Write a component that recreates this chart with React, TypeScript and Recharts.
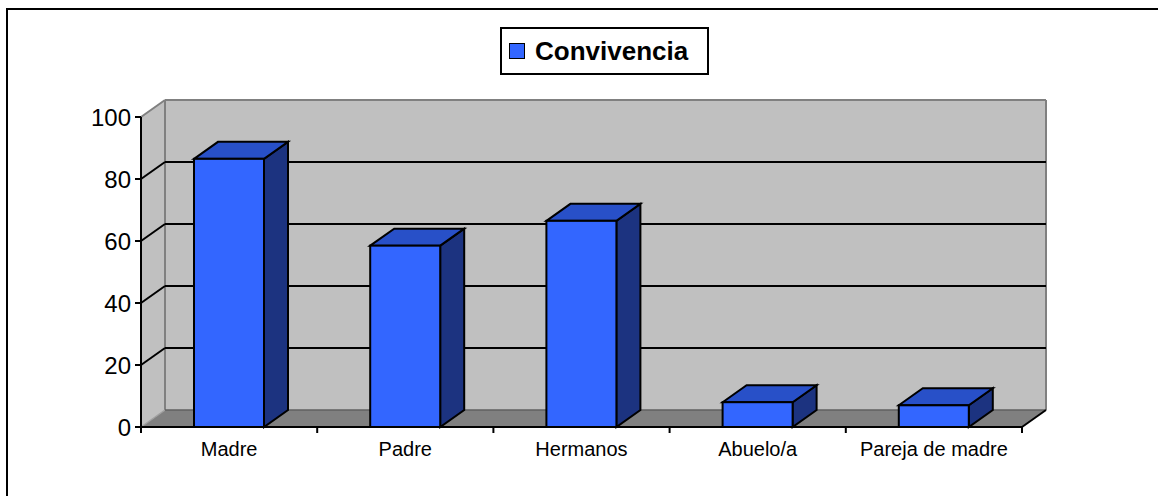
import { BarChart, Bar, XAxis, YAxis, CartesianGrid, ReferenceArea, Legend } from 'recharts'

const categories = ['Madre', 'Padre', 'Hermanos', 'Abuelo/a', 'Pareja de madre']
const convivencia = [86.5, 58.5, 66.5, 8, 7]
const yTicks = [0, 20, 40, 60, 80, 100]
const seriesName = 'Convivencia'

const data = categories.map((c, i) => ({ category: c, convivencia: convivencia[i] }))

// 3D depth offset of the back wall / bar sides
const DX = 24
const DY = 17
const FONT = '"Liberation Sans", Arial, Helvetica, sans-serif'
const FRONT = '#3366FF'
const TOP = '#2850C8'
const SIDE = '#1C3380'

function Walls(props: any) {
  const { x, y, width, height } = props
  const b = y + height
  const r = x + width
  return (
    <g>
      <polygon points={`${x},${y} ${x + DX},${y - DY} ${x + DX},${b - DY} ${x},${b}`} fill="#C0C0C0" />
      <rect x={x + DX} y={y - DY} width={width} height={height} fill="#C0C0C0" />
      <polygon points={`${x},${b} ${r},${b} ${r + DX},${b - DY} ${x + DX},${b - DY}`} fill="#808080" />
      <line x1={x + DX} y1={y - DY} x2={x + DX} y2={b - DY} stroke="#808080" strokeWidth={2} />
      <line x1={x + DX} y1={y - DY} x2={r + DX} y2={y - DY} stroke="#808080" strokeWidth={2} />
      <line x1={r + DX} y1={y - DY} x2={r + DX} y2={b - DY} stroke="#808080" strokeWidth={2} />
      <line x1={x} y1={y} x2={x + DX} y2={y - DY} stroke="#808080" strokeWidth={2} />
      <line x1={x} y1={b} x2={x + DX} y2={b - DY} stroke="#A0A0A0" strokeWidth={1.5} />
      <line x1={x + DX} y1={b - DY} x2={r + DX} y2={b - DY} stroke="#606060" strokeWidth={1.5} />
      <line x1={r} y1={b} x2={r + DX} y2={b - DY} stroke="#000" strokeWidth={2} />
    </g>
  )
}

function GridLine(props: any) {
  const { x1, y1, x2, y, height } = props
  if (typeof y === 'number' && typeof height === 'number') {
    if (Math.abs(y1 - y) < 1 || Math.abs(y1 - (y + height)) < 1) return <g key={props.key} />
  }
  return (
    <g key={props.key}>
      <line x1={x1} y1={y1} x2={x1 + DX} y2={y1 - DY} stroke="#000" strokeWidth={2} />
      <line x1={x1 + DX} y1={y1 - DY} x2={x2 + DX} y2={y1 - DY} stroke="#000" strokeWidth={2} />
    </g>
  )
}

function Bar3D(props: any) {
  const { x, y, width, height } = props
  if (height == null || isNaN(height)) return null
  const r = x + width
  const b = y + height
  return (
    <g stroke="#000" strokeWidth={2} strokeLinejoin="miter">
      <polygon points={`${r},${y} ${r + DX},${y - DY} ${r + DX},${b - DY} ${r},${b}`} fill={SIDE} />
      <polygon points={`${x},${y} ${x + DX},${y - DY} ${r + DX},${y - DY} ${r},${y}`} fill={TOP} />
      <rect x={x} y={y} width={width} height={height} fill={FRONT} />
    </g>
  )
}

const TICK_SIZE = 6
const TICK_MARGIN = 9

function CategoryTick(props: any) {
  const { x, y, payload, index, width, visibleTicksCount } = props
  const half = width / visibleTicksCount / 2
  const axisY = y - TICK_MARGIN - TICK_SIZE
  return (
    <g>
      <line x1={x - half} y1={axisY} x2={x - half} y2={axisY + TICK_SIZE} stroke="#000" strokeWidth={2} />
      {index === visibleTicksCount - 1 && (
        <line x1={x + half} y1={axisY} x2={x + half} y2={axisY + TICK_SIZE} stroke="#000" strokeWidth={2} />
      )}
      <text x={x} y={y} dy="0.71em" textAnchor="middle" fontSize={20} fontFamily={FONT} fill="#000">
        {payload.value}
      </text>
    </g>
  )
}

function LegendBox(props: any) {
  const item = props.payload && props.payload[0]
  return (
    <div
      style={{
        boxSizing: 'border-box',
        width: 209,
        height: 48,
        border: '2px solid #000',
        background: '#fff',
        display: 'flex',
        alignItems: 'center',
        paddingLeft: 7,
        fontFamily: FONT,
      }}
    >
      <span
        style={{
          display: 'inline-block',
          boxSizing: 'border-box',
          width: 16,
          height: 16,
          background: FRONT,
          border: '1.5px solid #000',
          marginRight: 10,
        }}
      />
      <span style={{ fontSize: 26, fontWeight: 'bold', color: '#000', lineHeight: 1 }}>
        {item ? item.value : seriesName}
      </span>
    </div>
  )
}

export default function App() {
  return (
    <div style={{ position: 'absolute', left: 0, top: 0, width: 1158, height: 496, overflow: 'hidden', background: '#fff' }}>
      <div
        style={{
          position: 'absolute',
          left: 6,
          top: 8,
          width: 1400,
          height: 700,
          border: '2px solid #000',
        }}
      />
      <div style={{ position: 'absolute', left: 0, top: 0 }}>
        <BarChart width={1158} height={496} data={data} margin={{ top: 117, right: 136, bottom: 29, left: 81 }}>
          <ReferenceArea y1={0} y2={100} shape={Walls} zIndex={-200} ifOverflow="visible" />
          <CartesianGrid vertical={false} horizontal={GridLine} />
          <XAxis
            dataKey="category"
            height={40}
            axisLine={{ stroke: '#000', strokeWidth: 2 }}
            tickLine={false}
            tickSize={TICK_SIZE}
            tickMargin={TICK_MARGIN}
            interval={0}
            tick={CategoryTick}
          />
          <YAxis
            width={60}
            domain={[0, 100]}
            ticks={yTicks}
            interval={0}
            axisLine={{ stroke: '#000', strokeWidth: 2 }}
            tickLine={{ stroke: '#000', strokeWidth: 2 }}
            tickSize={6}
            tickMargin={4}
            tick={{ fontSize: 24, fill: '#000', fontFamily: FONT }}
          />
          <Legend
            verticalAlign="middle"
            layout="horizontal"
            wrapperStyle={{ top: 27, left: 500, width: 'auto', height: 'auto' }}
            content={LegendBox}
          />
          <Bar dataKey="convivencia" name={seriesName} fill={FRONT} barSize={70} shape={Bar3D} isAnimationActive={false} />
        </BarChart>
      </div>
    </div>
  )
}
